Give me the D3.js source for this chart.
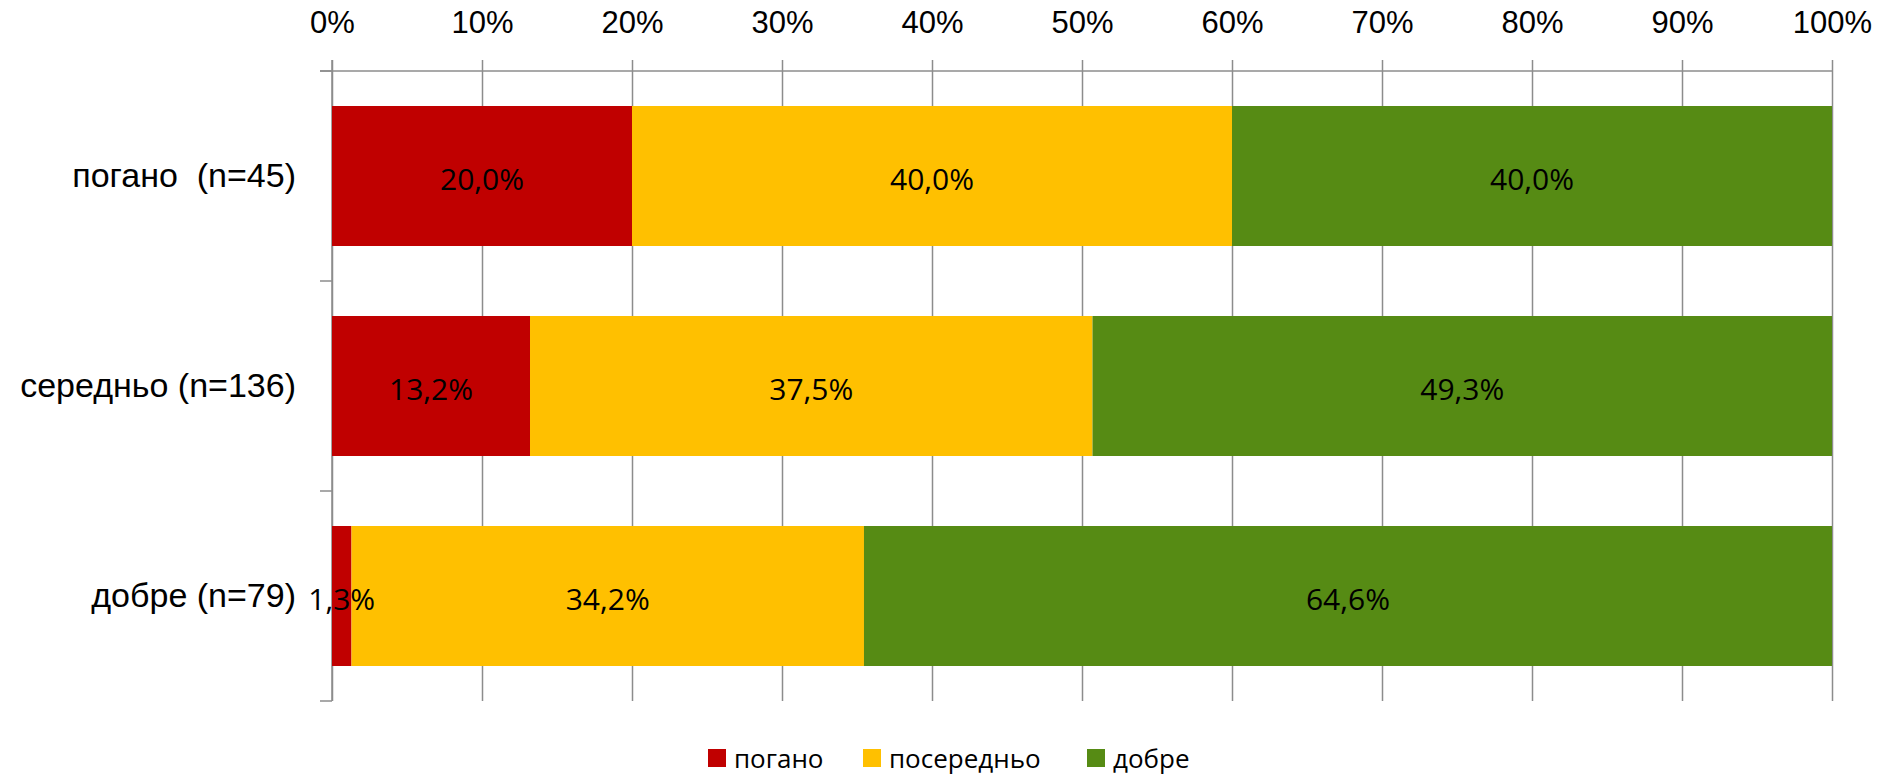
<!DOCTYPE html>
<html>
<head>
  <meta charset="utf-8">
  <title>chart</title>
  <script src="https://cdn.jsdelivr.net/npm/d3@7"></script>
  <style>
  body { margin: 0; background: #fff; }
  svg { font-family: "Open Sans", "Noto Sans", sans-serif; }
  .grid line { stroke: #8c8c8c; stroke-width: 1.5; }
  .grid path { display: none; }
  .xlab path, .xlab line { display: none; }
  .xlab text { font-size: 31px; fill: #000; }
  .ylab path, .ylab line { display: none; }
  .ylab text { font-size: 34px; fill: #000; white-space: pre; }
  .frame { stroke: #8c8c8c; stroke-width: 1.5; fill: none; }
  .val { font-size: 30px; fill: #000; text-anchor: middle; dominant-baseline: central; }
  .legend text { font-size: 26px; fill: #000; dominant-baseline: central; }
  </style>
</head>
<body>
<div id="chart"></div>
<script>
var categories = ["погано  (n=45)", "середньо (n=136)", "добре (n=79)"];
var seriesNames = ["погано", "посередньо", "добре"];
var poor = [20.0, 13.2, 1.3];
var middle = [40.0, 37.5, 34.2];
var good = [40.0, 49.3, 64.6];
var xTicks = [0, 0.1, 0.2, 0.3, 0.4, 0.5, 0.6, 0.7, 0.8, 0.9, 1];
var colors = ["#c00000", "#ffc000", "#568b14"];

var width = 1882, height = 778;
var svg = d3.select("#chart").append("svg")
            .attr("width", width)
            .attr("height", height);

var plot = {left: 332, right: 1832, top: 71, bottom: 701};

var rows = categories.map(function(c, i) {
  return {cat: c, "погано": poor[i], "посередньо": middle[i], "добре": good[i]};
});

var stack = d3.stack().keys(seriesNames).offset(d3.stackOffsetExpand);
var layers = stack(rows);

var x = d3.scaleLinear().domain([0, 1]).range([plot.left, plot.right]);
var y = d3.scaleBand().domain(categories)
          .range([plot.top, plot.bottom])
          .paddingInner(1/3).paddingOuter(1/6);

// vertical grid lines (they poke above the top line a bit)
svg.append("g")
   .attr("class", "grid")
   .attr("transform", "translate(0," + plot.bottom + ")")
   .call(d3.axisTop(x).tickValues(xTicks).tickSize(plot.bottom - 60).tickFormat(""));

// top line and the left axis with ticks on band edges
svg.append("line").attr("class", "frame")
   .attr("x1", plot.left - 12).attr("x2", plot.right)
   .attr("y1", plot.top).attr("y2", plot.top);
svg.append("line").attr("class", "frame")
   .attr("x1", plot.left).attr("x2", plot.left)
   .attr("y1", 60).attr("y2", plot.bottom);
var edges = d3.range(categories.length + 1).map(function(i) {
  return plot.top + i * y.step();
});
svg.selectAll(".ytick").data(edges).enter().append("line")
   .attr("class", "frame")
   .attr("x1", plot.left - 12).attr("x2", plot.left)
   .attr("y1", function(d) { return d; })
   .attr("y2", function(d) { return d; });

svg.append("g")
   .attr("class", "xlab")
   .attr("transform", "translate(0," + plot.top + ")")
   .call(d3.axisTop(x).tickValues(xTicks).tickSize(0).tickPadding(38)
           .tickFormat(d3.format(".0%")));

// bars
var groups = svg.selectAll(".layer").data(layers).enter().append("g")
                .attr("class", "layer")
                .attr("fill", function(d, i) { return colors[i]; });
groups.selectAll("rect").data(function(d) { return d; }).enter().append("rect")
      .attr("x", function(d) { return x(d[0]); })
      .attr("width", function(d) { return x(d[1]) - x(d[0]); })
      .attr("y", function(d) { return y(d.data.cat); })
      .attr("height", y.bandwidth());

// value labels
var fmt = function(v) { return v.toFixed(1).replace(".", ",") + "%"; };
layers.forEach(function(layer) {
  svg.append("g").selectAll("text").data(layer).enter().append("text")
     .attr("class", "val")
     .attr("x", function(d) { return (x(d[0]) + x(d[1])) / 2; })
     .attr("y", function(d) { return y(d.data.cat) + y.bandwidth() / 2 + 2; })
     .text(function(d) { return fmt(d.data[layer.key]); });
});

// category labels
svg.append("g")
   .attr("class", "ylab")
   .attr("transform", "translate(" + plot.left + ",0)")
   .call(d3.axisLeft(y).tickSize(0).tickPadding(36));

// legend
var legendX = [708, 863, 1087];
var legend = svg.append("g").attr("class", "legend");
var items = legend.selectAll("g").data(seriesNames).enter().append("g")
                  .attr("transform", function(d, i) { return "translate(" + legendX[i] + ",758)"; });
items.append("rect")
     .attr("x", 0).attr("y", -9).attr("width", 18).attr("height", 18)
     .attr("fill", function(d, i) { return colors[i]; });
items.append("text")
     .attr("x", 26).attr("y", 0)
     .text(function(d) { return d; });
</script>
</body>
</html>
